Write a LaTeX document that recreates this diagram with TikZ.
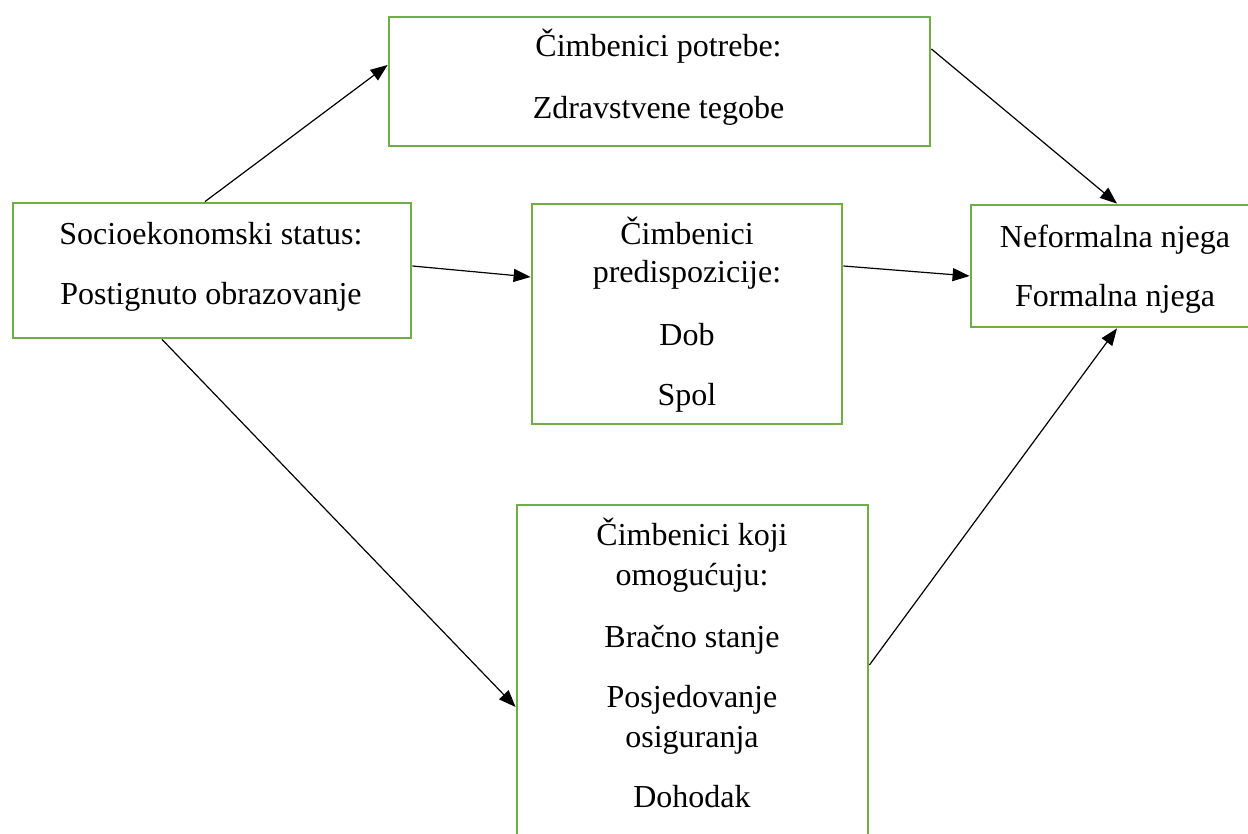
\documentclass[tikz,border=0pt]{standalone}
\usepackage{fontspec}
\setmainfont{Liberation Serif}
\usetikzlibrary{arrows.meta}
\definecolor{boxgreen}{HTML}{70AD47}
\tikzset{
  box/.style={draw=boxgreen, line width=2.8pt, inner sep=0pt, fill=none},
  txt/.style={anchor=base, inner sep=0pt, font=\fontsize{32}{36}\selectfont},
  conn/.style={line width=1.2pt, -{Triangle[length=17pt,width=13pt]}}
}
\begin{document}
\begin{tikzpicture}[x=1pt,y=-1pt]
\useasboundingbox (0,0) rectangle (1248,834);
\fill[white] (0,0) rectangle (1248,834);
% boxes
\node[box, minimum width=398pt, minimum height=135pt] (L) at (212,270.5) {};
\node[box, minimum width=541pt, minimum height=129pt] (T) at (659.5,81.5) {};
\node[box, minimum width=310pt, minimum height=220pt] (M) at (687,314) {};
\node[box, minimum width=290pt, minimum height=122pt] (R) at (1116,266) {};
\node[box, minimum width=351pt, minimum height=350pt] (B) at (692.5,680) {};
% texts
\node[txt] (l1) at (211,245) {Socioekonomski status:};
\node[txt] (l2) at (211,305) {Postignuto obrazovanje};
\node[txt] (t1) at (658.5,57) {Čimbenici potrebe:};
\node[txt] (t2) at (658.5,119) {Zdravstvene tegobe};
\node[txt] (m1) at (687,245) {Čimbenici};
\node[txt] (m2) at (687,283) {predispozicije:};
\node[txt] (m3) at (687,345) {Dob};
\node[txt] (m4) at (687,405) {Spol};
\node[txt] (r1) at (1115,248) {Neformalna njega};
\node[txt] (r2) at (1115,307) {Formalna njega};
\node[txt] (b1) at (692,545) {Čimbenici koji};
\node[txt] (b2) at (692,585) {omogućuju:};
\node[txt] (b3) at (692,647) {Bračno stanje};
\node[txt] (b4) at (692,707) {Posjedovanje};
\node[txt] (b5) at (692,747) {osiguranja};
\node[txt] (b6) at (692,807) {Dohodak};
% connectors
\draw[conn] ([xshift=-7pt]L.north) -- ([yshift=16.5pt]T.west);
\draw[conn] ([yshift=4.5pt]L.east) -- ([yshift=37pt]M.west);
\draw[conn] ([yshift=48pt]M.east) -- ([yshift=-10pt]R.west);
\draw[conn] ([yshift=32.5pt]T.east) -- ([xshift=1pt]R.north);
\draw[conn] ([xshift=-50pt]L.south) -- ([yshift=-27pt]B.west);
\draw[conn] ([yshift=15pt]B.east) -- ([xshift=1pt]R.south);
\end{tikzpicture}
\end{document}
